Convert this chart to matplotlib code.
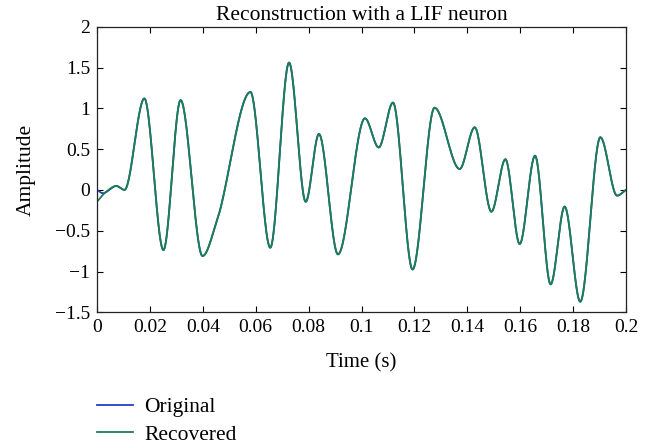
import numpy as np
import matplotlib
matplotlib.use("Agg")
import matplotlib.pyplot as plt

# turning points of the signal (time in s, amplitude)
t_rec = [0.0, 0.0032, 0.0073, 0.0104, 0.0179, 0.0251, 0.0316, 0.0399, 0.0454,
         0.0580, 0.0655, 0.0726, 0.0789, 0.0839, 0.0911, 0.1013, 0.1065, 0.1119,
         0.1193, 0.1276, 0.1371, 0.1428, 0.1491, 0.1544, 0.1598, 0.1656, 0.1715,
         0.1768, 0.1827, 0.1903, 0.1966, 0.2]
y_rec = [-0.145, -0.03, 0.048, 0.0, 1.12, -0.737, 1.10, -0.81, -0.37,
         1.20, -0.708, 1.56, -0.145, 0.685, -0.79, 0.877, 0.52, 1.07,
         -0.975, 1.007, 0.256, 0.767, -0.267, 0.375, -0.663, 0.419, -1.157,
         -0.205, -1.37, 0.645, -0.07, 0.0]

# original only differs from the recovered one at the very start
t_orig_start = [0.0, 0.0022]
y_orig_start = [0.0, -0.04]


def pchip(xk, yk, x):
    xk = np.asarray(xk, float)
    yk = np.asarray(yk, float)
    h = np.diff(xk)
    delta = np.diff(yk) / h
    d = np.zeros_like(yk)
    for k in range(1, len(xk) - 1):
        if delta[k - 1] * delta[k] > 0:
            w1 = 2 * h[k] + h[k - 1]
            w2 = h[k] + 2 * h[k - 1]
            d[k] = (w1 + w2) / (w1 / delta[k - 1] + w2 / delta[k])
    d[0] = delta[0] if abs(yk[1] - yk[0]) < 0.2 else 0.0
    d[-1] = delta[-1]
    idx = np.clip(np.searchsorted(xk, x) - 1, 0, len(h) - 1)
    s = (x - xk[idx]) / h[idx]
    h00 = 2 * s**3 - 3 * s**2 + 1
    h10 = s**3 - 2 * s**2 + s
    h01 = -2 * s**3 + 3 * s**2
    h11 = s**3 - s**2
    return (h00 * yk[idx] + h10 * h[idx] * d[idx]
            + h01 * yk[idx + 1] + h11 * h[idx] * d[idx + 1])


t = np.linspace(0, 0.2, 2001)
rec = pchip(t_rec, y_rec, t)
orig = pchip(t_orig_start + t_rec[2:], y_orig_start + y_rec[2:], t)

plt.rcParams['font.family'] = ['Liberation Serif', 'DejaVu Serif']
plt.rcParams['font.size'] = 14

fig = plt.figure(figsize=(6.56, 4.48), dpi=100)
ax = fig.add_axes([0.1479, 0.3029, 0.8064, 0.6375])

ax.plot(t, orig, color='#1f3fbf', lw=1.3, label='Original')
ax.plot(t, rec, color='#1b7f4f', lw=1.3, label='Recovered')

ax.set_xlim(0, 0.2)
ax.set_ylim(-1.5, 2)
ax.set_xticks(np.arange(0, 0.201, 0.02))
ax.set_xticklabels(['0', '0.02', '0.04', '0.06', '0.08', '0.1', '0.12',
                    '0.14', '0.16', '0.18', '0.2'])
ax.set_yticks(np.arange(-1.5, 2.01, 0.5))
ax.set_yticklabels(['\u22121.5', '\u22121', '\u22120.5', '0', '0.5', '1', '1.5', '2'])
ax.tick_params(direction='in', top=True, right=True, length=4, width=0.8,
               labelsize=14, pad=5)
for sp in ax.spines.values():
    sp.set_linewidth(0.9)
    sp.set_color('#222222')

ax.set_title('Reconstruction with a LIF neuron', fontsize=15.5, pad=5)
ax.set_xlabel('Time (s)', fontsize=15, labelpad=12)
ax.set_ylabel('Amplitude', fontsize=15.5, labelpad=14)

ax.legend(loc='upper left', bbox_to_anchor=(97 / 656, 1 - 397 / 448),
          bbox_transform=fig.transFigure, frameon=False, fontsize=15.5,
          handlelength=1.65, handletextpad=0.55, labelspacing=0.35,
          borderpad=0, borderaxespad=0)

fig.savefig('out.png', dpi=100)
